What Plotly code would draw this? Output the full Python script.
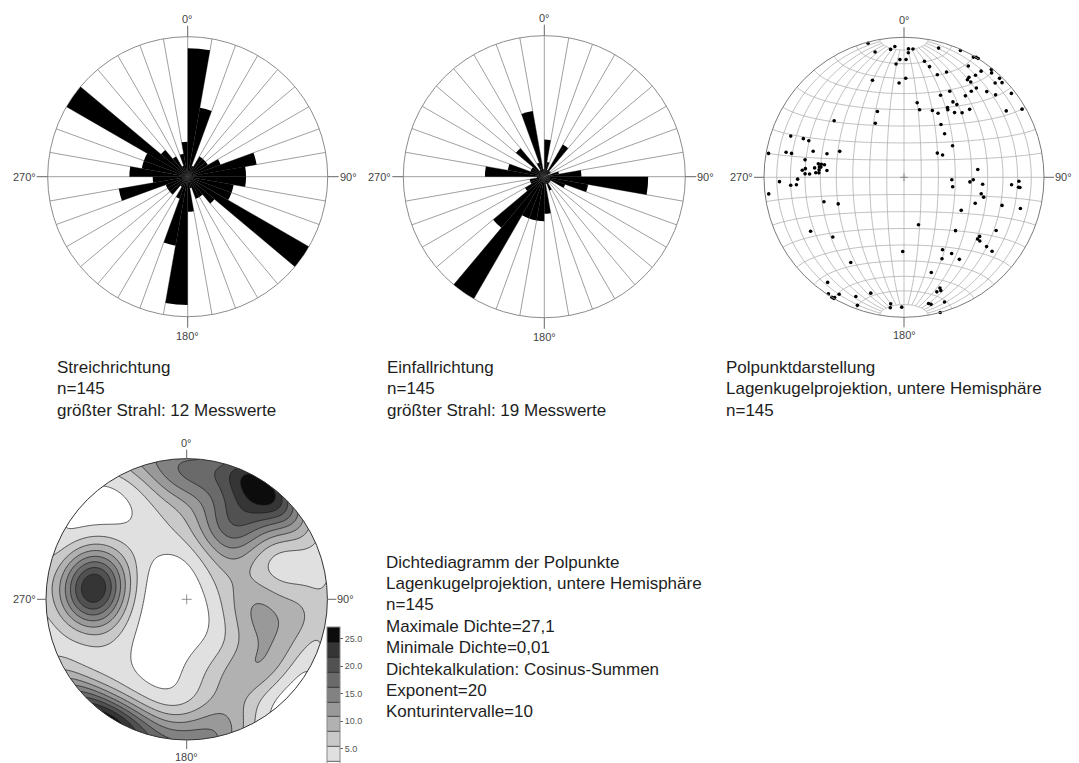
import numpy as np
import plotly.graph_objects as go

W, H = 1079, 763

# ---------------- data ----------------
bin_start = list(range(0, 360, 10))
strike_counts = [11, 6, 1, 2, 2, 2, 3, 6, 5, 5, 4, 4, 12, 3, 2, 2, 1, 3,
                 11, 6, 2, 1, 2, 2, 2, 6, 3, 5, 4, 4, 12, 3, 2, 1, 2, 3]
dipdir_counts = [5, 2, 1, 5, 1, 1, 0, 2, 5, 14, 6, 3, 1, 1, 1, 2, 1, 5,
                 6, 6, 6, 19, 9, 3, 2, 2, 1, 8, 5, 2, 2, 5, 1, 2, 9, 1]

pole_trend = [345, 354, 356, 347, 358, 1, 356, 1, 357, 342, 338, 332, 309, 290, 291, 291,
              280, 282, 282, 286, 287, 292, 280, 279, 279, 279, 277, 277, 275, 273, 276,
              273, 275, 274, 272, 272, 275,
              2, 4, 2, 15, 24, 30, 31, 32, 10, 13, 30, 39, 40, 36, 35, 33, 33, 35, 44, 44,
              46, 18, 22, 39, 38, 44, 28, 52, 24, 37, 48, 33, 36, 32, 33, 10, 13, 23, 28,
              38, 42, 44, 57, 60, 35, 43, 57, 54, 60, 84,
              93, 101, 94, 92, 95, 102, 104, 110, 94, 92, 95, 95, 106, 105, 120, 163, 136,
              120, 128, 130, 130, 130, 130, 152, 148, 155, 146, 181, 164, 162, 162, 164,
              169, 168, 162, 165, 181,
              268, 266, 266, 269, 263, 253, 248, 240, 230, 212, 216, 213, 211, 210, 210,
              209, 202, 196, 200, 186, 186]
pole_plunge = [1, 9, 7, 9, 17, 17, 20, 30, 33, 28, 48, 54, 36, 15, 24, 28,
               2, 15, 19, 33, 42, 49, 29, 38, 40, 42, 39, 40, 39, 39, 36,
               37, 30, 28, 30, 33, 44,
               9, 9, 12, 5, 1, 1, 0, 0, 17, 20, 9, 1, 3, 7, 12, 16, 18, 18, 2, 7,
               3, 24, 20, 19, 23, 16, 31, 3, 36, 28, 13, 36, 36, 41, 42, 45, 49, 47, 47,
               41, 38, 33, 14, 3, 52, 55, 56, 66, 64, 46,
               62, 61, 51, 49, 43, 43, 41, 45, 24, 19, 19, 18, 28, 15, 51, 61, 46,
               25, 32, 32, 30, 24, 19, 41, 36, 36, 30, 46, 30, 18, 16, 16,
               9, 8, 7, 0, 8,
               12, 20, 24, 25, 3, 40, 48, 24, 34, 29, 8, 1, 0, 0, 1,
               5, 9, 15, 3, 10, 7]

max_density = 27.1
exponent = 20
n_intervals = 10
band_colors = ['#ffffff', '#e0e0e0', '#c9c9c9', '#b1b1b1', '#999999', '#828282',
               '#6a6a6a', '#515151', '#353535', '#0c0c0c']
colorbar_ticks = [5, 10, 15, 20, 25]

FONT = 'Arial, Liberation Sans, sans-serif'


def P(x, y):
    return x / W, 1 - y / H


def dom(cx, cy, r):
    return dict(x=[(cx - r) / W, (cx + r) / W], y=[1 - (cy + r) / H, 1 - (cy - r) / H])


fig = go.Figure()

# ---------------- rose diagrams ----------------
centers = [(187.7, 176.7, 140), (544.3, 176.7, 141)]
for i, (counts, (cx, cy, R)) in enumerate(zip([strike_counts, dipdir_counts], centers)):
    pname = 'polar' if i == 0 else 'polar2'
    fig.add_trace(go.Barpolar(r=counts, theta=[b + 5 for b in bin_start], width=[10] * 36,
                              marker=dict(color='black', line=dict(width=0)),
                              subplot=pname, showlegend=False, hoverinfo='skip'))
    fig.layout[pname] = dict(
        domain=dom(cx, cy, R), bgcolor='rgba(0,0,0,0)', bargap=0,
        angularaxis=dict(rotation=90, direction='clockwise', tickmode='linear', tick0=0, dtick=10,
                         showticklabels=False, ticks='', showgrid=True, gridcolor='#a0a0a0',
                         gridwidth=0.8, showline=True, linecolor='#8c8c8c', linewidth=1,
                         layer='below traces'),
        radialaxis=dict(range=[0, max(counts)], visible=False))

# ---------------- pole plot (equal-area net) ----------------
def proj(E, N, D):
    th = np.arccos(np.clip(D, -1, 1))
    r = np.sqrt(2) * np.sin(th / 2)
    az = np.degrees(np.arctan2(E, N)) % 360
    return r, az

net_r, net_t = [], []
for delta in range(10, 91, 10):
    sides = [1, -1] if delta < 90 else [1]
    for s in sides:
        lam = np.radians(np.linspace(10, 170, 81) if delta < 90 else np.linspace(0, 180, 91))
        dr = np.radians(delta)
        E = np.sin(lam) * s * np.cos(dr)
        N = np.cos(lam)
        D = np.sin(lam) * np.sin(dr)
        r, t = proj(E, N, D)
        net_r += list(r) + [None]
        net_t += list(t) + [None]
for alpha in range(10, 171, 10):
    a = np.radians(alpha)
    phi = np.radians(np.linspace(0, 180, 91))
    E = np.sin(a) * np.cos(phi)
    N = np.full_like(phi, np.cos(a))
    D = np.sin(a) * np.sin(phi)
    r, t = proj(E, N, D)
    net_r += list(r) + [None]
    net_t += list(t) + [None]

fig.add_trace(go.Scatterpolar(r=net_r, theta=net_t, mode='lines', subplot='polar3',
                              line=dict(color='#b0b0b0', width=0.8), connectgaps=False,
                              showlegend=False, hoverinfo='skip'))
pr = np.sqrt(2) * np.sin(np.radians(90 - np.array(pole_plunge, float)) / 2)
fig.add_trace(go.Scatterpolar(r=pr, theta=pole_trend, mode='markers', subplot='polar3',
                              marker=dict(color='black', size=3.6),
                              showlegend=False, hoverinfo='skip'))
fig.layout['polar3'] = dict(
    domain=dom(904, 177.3, 140), bgcolor='rgba(0,0,0,0)',
    angularaxis=dict(rotation=90, direction='clockwise', showticklabels=False, ticks='',
                     showgrid=False, showline=True, linecolor='#7a7a7a', linewidth=1),
    radialaxis=dict(range=[0, 1], visible=False))

# ---------------- density diagram (cosine sums of the poles) ----------------
g = np.linspace(-1, 1, 201)
X, Y = np.meshgrid(g, g)
rho = np.minimum(np.hypot(X, Y), 1.0)
th = 2 * np.arcsin(rho / np.sqrt(2))
az = np.arctan2(X, Y)
gE, gN, gD = np.sin(th) * np.sin(az), np.sin(th) * np.cos(az), np.cos(th)
pt, pp = np.radians(pole_trend), np.radians(pole_plunge)
pE, pN, pD = np.cos(pp) * np.sin(pt), np.cos(pp) * np.cos(pt), np.sin(pp)
dots = gE[..., None] * pE + gN[..., None] * pN + gD[..., None] * pD
dens = (np.abs(dots) ** exponent).sum(-1)
dens = dens * (max_density / dens.max())

step = max_density / n_intervals
nb = len(band_colors)
cscale = []
for k, c in enumerate(band_colors):
    cscale += [[k / nb, c], [(k + 1) / nb, c]]

cb_top = 627
fig.add_trace(go.Contour(
    x=g, y=g, z=dens, xaxis='x', yaxis='y', zmin=0, zmax=max_density,
    colorscale=cscale, autocontour=False,
    contours=dict(start=step, end=max_density - step * 0.999, size=step, coloring='fill'),
    line=dict(color='#1a1a1a', width=0.7), hoverinfo='skip',
    colorbar=dict(x=327.3 / W, xanchor='left', y=1 - cb_top / H, yanchor='top',
                  lenmode='pixels', len=148.6, thickness=13, xpad=0, ypad=0,
                  outlinecolor='#888', outlinewidth=1,
                  tickmode='array', tickvals=colorbar_ticks, tickformat='.1f',
                  ticks='outside', ticklen=3, tickcolor='#666',
                  tickfont=dict(size=9, color='#555', family=FONT))))

PADF = 1.06
dcx, dcy, dR = 186.7, 599.3, 140.7
dd = dom(dcx, dcy, dR * PADF)
fig.update_layout(
    xaxis=dict(domain=dd['x'], range=[-PADF, PADF], visible=False, fixedrange=True),
    yaxis=dict(domain=dd['y'], range=[-PADF, PADF], visible=False, fixedrange=True))

ang = np.linspace(0, -2 * np.pi, 241)
circ = ' '.join(('M' if k == 0 else 'L') + f'{np.cos(a):.4f},{np.sin(a):.4f}' for k, a in enumerate(ang))
mask = 'M-1.2,-1.2 L1.2,-1.2 L1.2,1.2 L-1.2,1.2 Z ' + circ + ' Z'
shapes = [
    dict(type='path', path=mask, xref='x', yref='y', fillcolor='white',
         line=dict(width=0, color='white'), fillrule='evenodd', layer='above'),
    dict(type='circle', xref='x', yref='y', x0=-1, y0=-1, x1=1, y1=1,
         line=dict(color='#333', width=1)),
]

def seg(x0, y0, x1, y1, color='#666', width=1):
    a0, b0 = P(x0, y0)
    a1, b1 = P(x1, y1)
    return dict(type='line', xref='paper', yref='paper', x0=a0, y0=b0, x1=a1, y1=b1,
                line=dict(color=color, width=width))

circles = [(187.7, 176.7, 140, 11), (544.3, 176.7, 141, 11),
           (904, 177.3, 140, 10), (dcx, dcy, dR, 9)]
for (cx, cy, R, ext) in circles:
    shapes += [seg(cx, cy - R - ext, cx, cy - R), seg(cx, cy + R, cx, cy + R + ext),
               seg(cx - R - ext, cy, cx - R, cy), seg(cx + R, cy, cx + R + ext, cy)]

for (cx, cy, h) in [(904, 177.3, 4), (dcx, dcy, 5)]:
    shapes += [seg(cx - h, cy, cx + h, cy, '#777', 0.8), seg(cx, cy - h, cx, cy + h, '#777', 0.8)]

annots = []

def label(text, x, y, anchor='center', size=11, color='#444'):
    a, b = P(x, y)
    annots.append(dict(text=text, x=a, y=b, xref='paper', yref='paper', showarrow=False,
                       xanchor=anchor, yanchor='middle', borderpad=0,
                       font=dict(size=size, color=color, family=FONT)))

for (cx, cy, R, ext) in circles:
    label('0°', cx, cy - R - ext - 7)
    label('180°', cx, cy + R + ext + 8)
    label('90°', cx + R + ext, cy, 'left')
    label('270°', cx - R - ext, cy, 'right')

def block(lines, x, y0, step=21.5):
    for k, t in enumerate(lines):
        label(t, x, y0 + k * step, 'left', size=17, color='#1e1e1e')

block(['Streichrichtung', 'n=145', 'größter Strahl: 12 Messwerte'], 56, 367)
block(['Einfallrichtung', 'n=145', 'größter Strahl: 19 Messwerte'], 386, 367)
block(['Polpunktdarstellung', 'Lagenkugelprojektion, untere Hemisphäre', 'n=145'], 725, 367)
block(['Dichtediagramm der Polpunkte', 'Lagenkugelprojektion, untere Hemisphäre', 'n=145',
       'Maximale Dichte=27,1', 'Minimale Dichte=0,01', 'Dichtekalkulation: Cosinus-Summen',
       'Exponent=20', 'Konturintervalle=10'], 385, 562, 21.4)

fig.update_layout(width=W, height=H, autosize=False,
                  margin=dict(l=0, r=0, t=0, b=0, pad=0, autoexpand=False),
                  paper_bgcolor='white', plot_bgcolor='white', showlegend=False,
                  shapes=shapes, annotations=annots)

fig.write_html('out.html', config={'displayModeBar': False},
               post_script="document.body.style.margin='0px';"
                           "document.body.style.padding='0px';")
